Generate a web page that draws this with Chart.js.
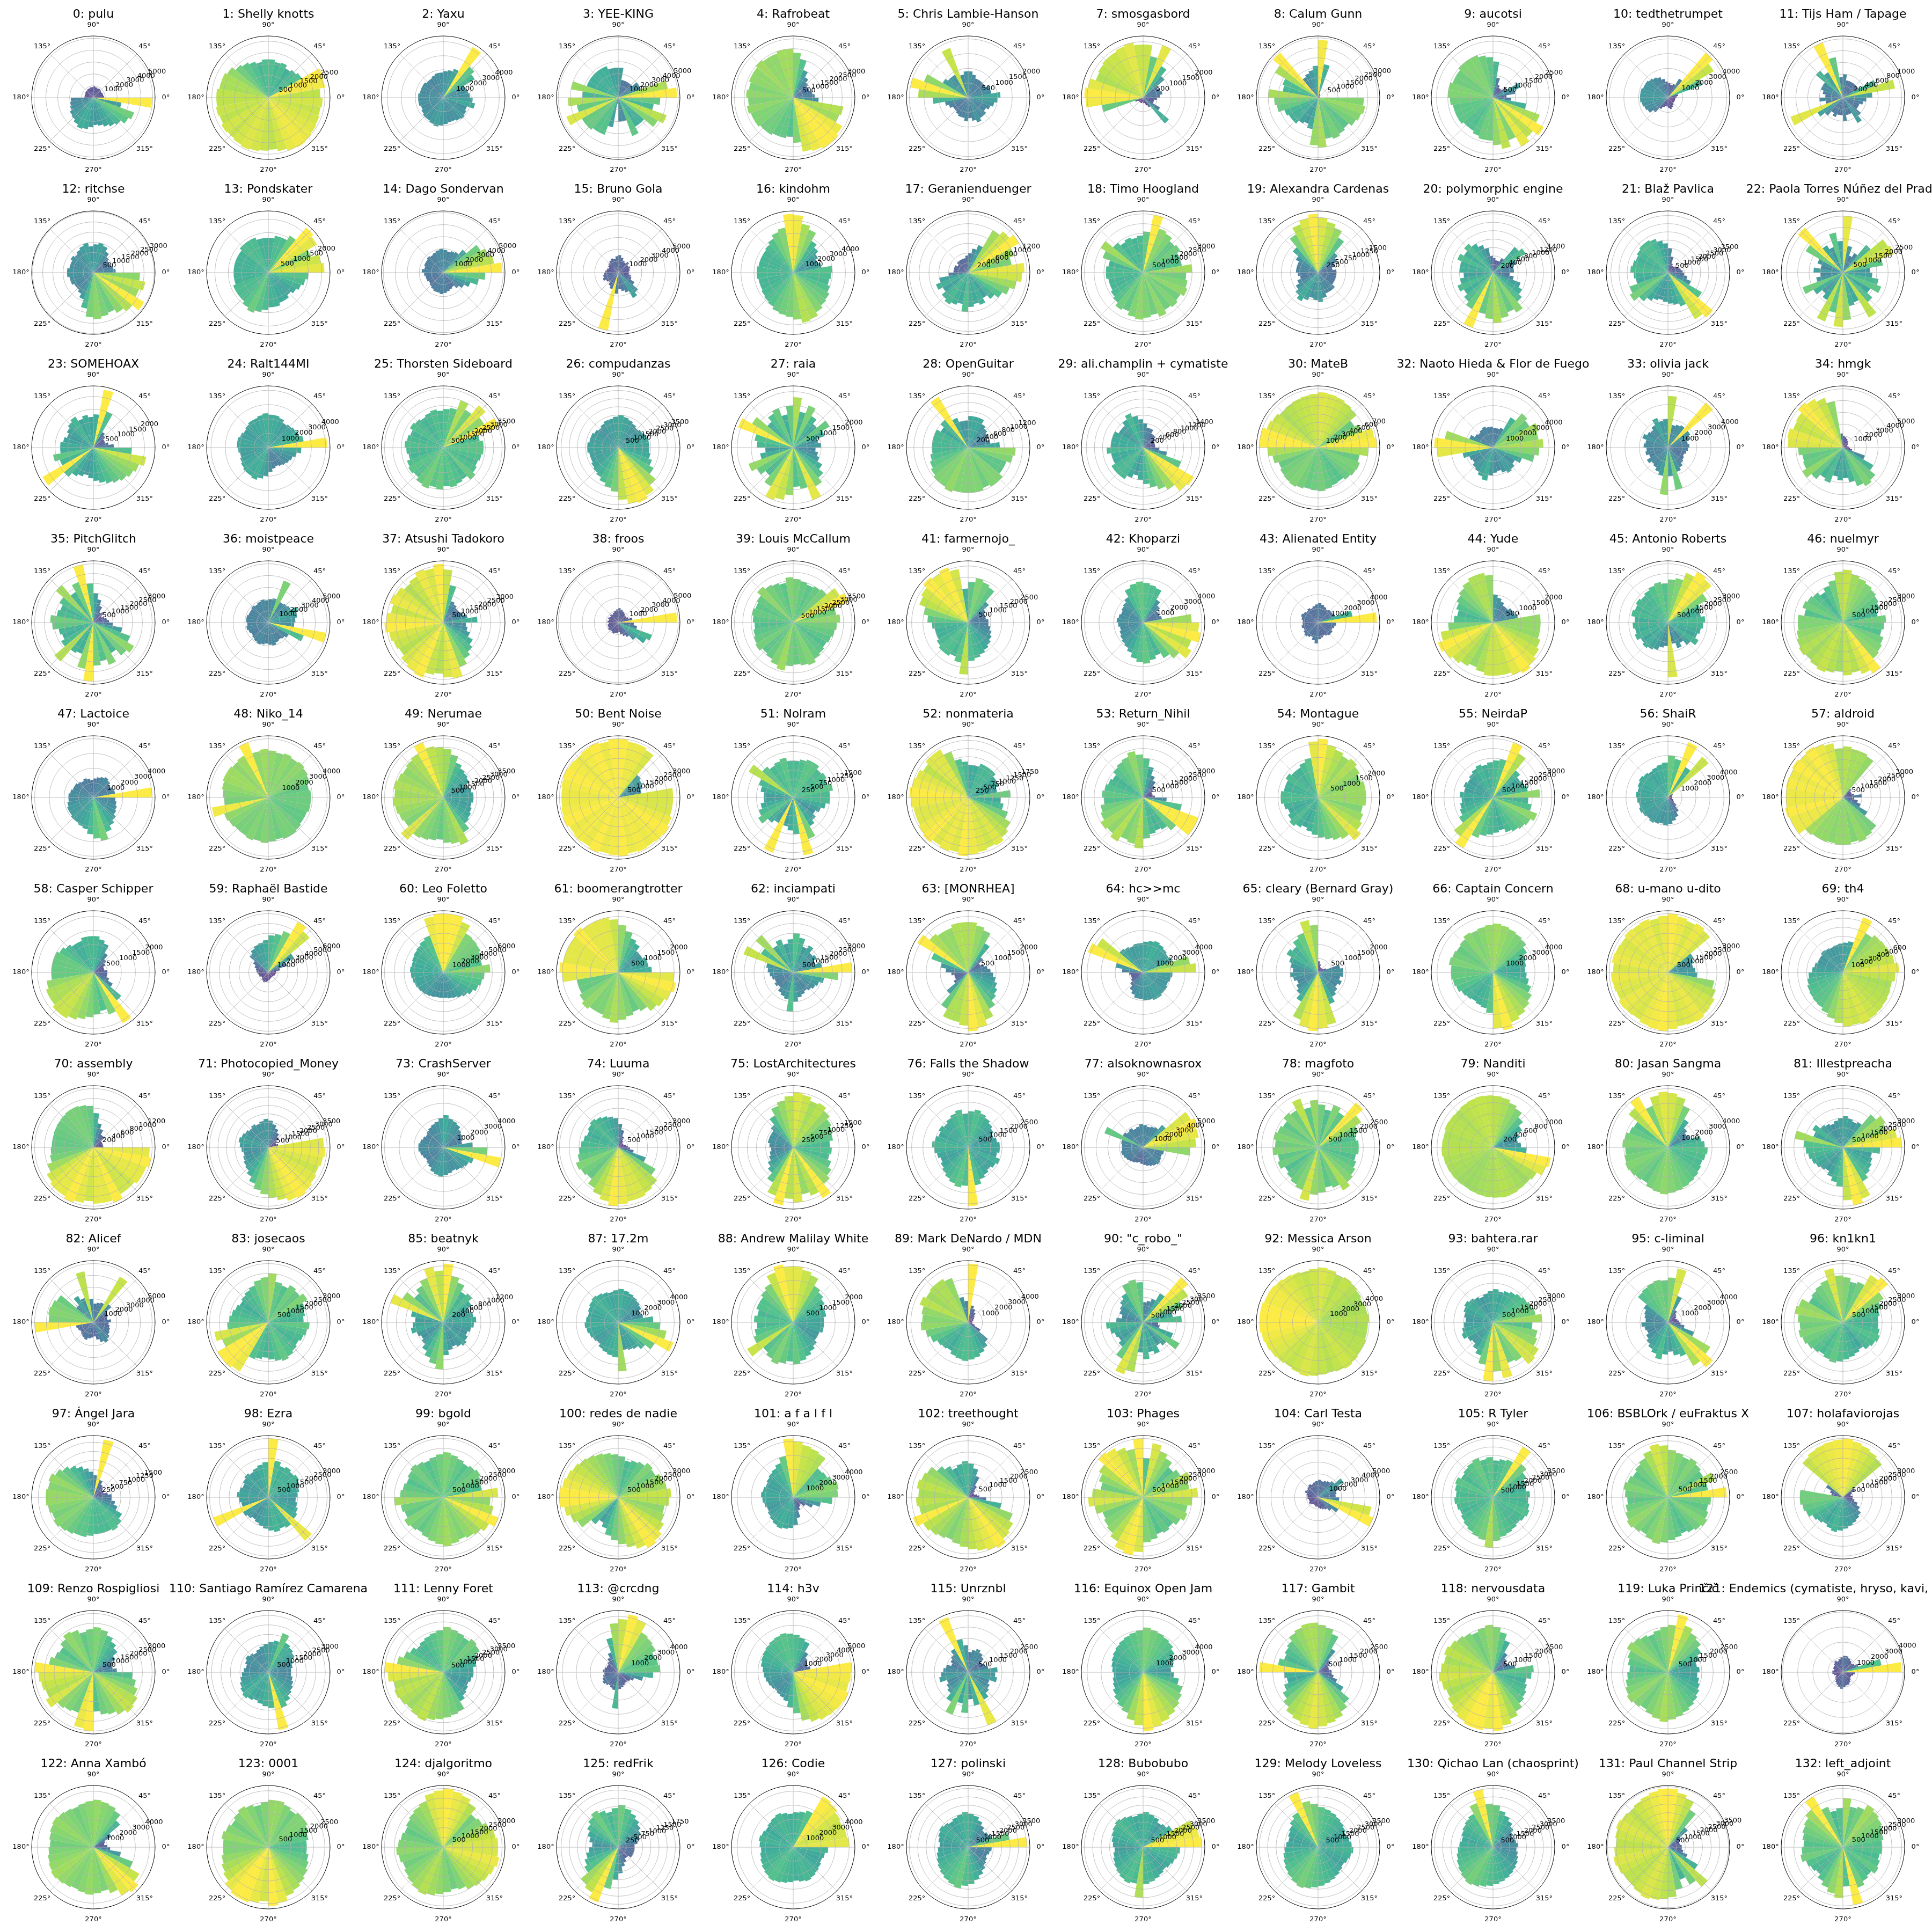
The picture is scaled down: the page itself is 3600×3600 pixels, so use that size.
<!DOCTYPE html>
<html>
<head>
<meta charset="utf-8">
<script src="https://cdn.jsdelivr.net/npm/chart.js@4.4.1/dist/chart.umd.min.js"></script>
<style>
  body { margin: 0; width: 3600px; height: 3600px; overflow: hidden; background: #fff; position: relative; font-family: 'DejaVu Sans', sans-serif; }
  canvas { position: absolute; }
  .title { position: absolute; white-space: nowrap; transform: translate(-50%, -50%); font-size: 22px; color: #000; }
</style>
</head>
<body>
<script>
// panel titles, one per polar plot (row by row, 11 per row)
const titles = [
  '0: pulu', '1: Shelly knotts', '2: Yaxu', '3: YEE-KING', '4: Rafrobeat', '5: Chris Lambie-Hanson', '7: smosgasbord', '8: Calum Gunn', '9: aucotsi', '10: tedthetrumpet', '11: Tijs Ham / Tapage',
  '12: ritchse', '13: Pondskater', '14: Dago Sondervan', '15: Bruno Gola', '16: kindohm', '17: Geranienduenger', '18: Timo Hoogland', '19: Alexandra Cardenas', '20: polymorphic engine', '21: Blaž Pavlica', '22: Paola Torres Núñez del Prado',
  '23: SOMEHOAX', '24: Ralt144MI', '25: Thorsten Sideboard', '26: compudanzas', '27: raia', '28: OpenGuitar', '29: ali.champlin + cymatiste', '30: MateB', '32: Naoto Hieda & Flor de Fuego', '33: olivia jack', '34: hmgk',
  '35: PitchGlitch', '36: moistpeace', '37: Atsushi Tadokoro', '38: froos', '39: Louis McCallum', '41: farmernojo_', '42: Khoparzi', '43: Alienated Entity', '44: Yude', '45: Antonio Roberts', '46: nuelmyr',
  '47: Lactoice', '48: Niko_14', '49: Nerumae', '50: Bent Noise', '51: Nolram', '52: nonmateria', '53: Return_Nihil', '54: Montague', '55: NeirdaP', '56: ShaiR', '57: aldroid',
  '58: Casper Schipper', '59: Raphaël Bastide', '60: Leo Foletto', '61: boomerangtrotter', '62: inciampati', '63: [MONRHEA]', '64: hc>>mc', '65: cleary (Bernard Gray)', '66: Captain Concern', '68: u-mano u-dito', '69: th4',
  '70: assembly', '71: Photocopied_Money', '73: CrashServer', '74: Luuma', '75: LostArchitectures', '76: Falls the Shadow', '77: alsoknownasrox', '78: magfoto', '79: Nanditi', '80: Jasan Sangma', '81: Illestpreacha',
  '82: Alicef', '83: josecaos', '85: beatnyk', '87: 17.2m', '88: Andrew Malilay White', '89: Mark DeNardo / MDN', '90: "c_robo_"', '92: Messica Arson', '93: bahtera.rar', '95: c-liminal', '96: kn1kn1',
  '97: Ángel Jara', '98: Ezra', '99: bgold', '100: redes de nadie', '101: a f a l f l', '102: treethought', '103: Phages', '104: Carl Testa', '105: R Tyler', '106: BSBLOrk / euFraktus X', '107: holafaviorojas',
  '109: Renzo Rospigliosi', '110: Santiago Ramírez Camarena', '111: Lenny Foret', '113: @crcdng', '114: h3v', '115: Unrznbl', '116: Equinox Open Jam', '117: Gambit', '118: nervousdata', '119: Luka Prinčič', '121: Endemics (cymatiste, hryso, kavi, nanoyak)',
  '122: Anna Xambó', '123: 0001', '124: djalgoritmo', '125: redFrik', '126: Codie', '127: polinski', '128: Bubobubo', '129: Melody Loveless', '130: Qichao Lan (chaosprint)', '131: Paul Channel Strip', '132: left_adjoint'
];

// radial tick spacing of each panel
const tickSteps = [
  1000, 500, 1000, 1000, 500, 500, 500, 500, 500, 1000, 200,
  500, 500, 1000, 1000, 1000, 200, 500, 250, 200, 500, 500,
  500, 1000, 500, 500, 500, 200, 200, 100, 1000, 1000, 1000,
  500, 1000, 500, 1000, 500, 500, 1000, 1000, 500, 500, 500,
  1000, 1000, 500, 500, 250, 250, 500, 500, 500, 1000, 500,
  500, 1000, 1000, 500, 500, 500, 1000, 500, 1000, 500, 100,
  200, 500, 1000, 500, 250, 500, 1000, 500, 200, 1000, 500,
  1000, 500, 200, 1000, 500, 1000, 500, 1000, 500, 1000, 500,
  250, 500, 500, 500, 1000, 500, 500, 1000, 500, 500, 500,
  500, 500, 500, 1000, 1000, 500, 1000, 500, 500, 500, 1000,
  1000, 500, 500, 250, 1000, 500, 500, 500, 500, 500, 500
];

// angle bins (10 degrees each, counter-clockwise from east)
const binLabels = ['0°','10°','20°','30°','40°','50°','60°','70°','80°','90°','100°','110°','120°','130°','140°','150°','160°','170°',
  '180°','190°','200°','210°','220°','230°','240°','250°','260°','270°','280°','290°','300°','310°','320°','330°','340°','350°'];

// angular axis tick labels
const thetaLabels = ['0°', '45°', '90°', '135°', '180°', '225°', '270°', '315°'];

// bar heights for each panel, one value per angle bin
const panelValues = [
  [900,850,850,800,850,900,850,900,950,900,900,850,850,800,800,750,750,750,1900,2000,2100,2300,2400,2600,2800,2700,2500,2300,2400,2600,2800,3000,3400,3650,2400,4950], // 0
  [2300,2550,2600,1700,1600,1500,1650,1600,1700,1700,1600,1700,1800,1900,2100,2200,2200,2300,2300,2350,2300,2400,2350,2400,2450,2400,2350,2300,2400,2500,2550,2500,2450,2400,2350,2400], // 1
  [1900,1800,1700,2600,2900,4200,2200,2000,1900,1800,1800,1700,1600,1600,1700,1700,1700,1800,1800,1800,1700,1800,1900,1900,2000,2100,2000,1900,1800,1800,1900,2000,1900,1800,2300,2100], // 2
  [4900,4200,2000,2000,1500,1500,1500,1500,2500,2500,2500,2800,2800,2800,2800,2800,4000,3000,4200,3500,4600,3500,3500,3300,3300,2500,500,2000,2000,3400,2800,2800,3800,4300,3000,3500], // 3
  [1100,1000,900,900,1000,1200,1500,2000,2300,2500,2500,2400,2400,2500,2400,2400,2300,2400,2300,2400,2300,2300,2200,2200,2100,2100,2000,2300,2800,2900,3000,3000,2900,2500,2600,1300], // 4
  [1100,800,800,700,700,700,700,800,900,900,800,1800,900,900,1000,1600,2000,1700,1200,800,700,600,600,650,700,700,800,700,800,900,800,800,700,800,900,1000], // 5
  [600,700,650,600,1000,1300,2000,1500,1900,1900,2000,1950,1900,1900,1850,1800,2000,2100,2050,1500,300,200,200,200,200,200,150,200,200,300,400,1200,700,400,400,500], // 7
  [100,100,100,100,100,150,200,1700,2900,1600,1400,1300,1200,2950,2500,1900,1800,2500,2200,2100,1800,1700,1700,1500,1400,1600,2400,2500,2100,2200,2100,2000,2200,2300,2400,2300], // 8
  [600,1000,1300,700,500,500,600,900,1600,1800,1900,2000,2000,2000,1900,1900,2000,2000,1900,1800,1800,1800,1700,1700,1800,1900,1900,2100,2300,2000,2500,2300,2600,2200,1500,800], // 9
  [600,700,2500,3600,4000,1500,1000,900,1000,1100,1300,1500,1600,1700,1800,1800,1900,1900,1900,1800,1700,1600,1300,900,700,600,600,700,800,700,600,500,500,500,500,500], // 10
  [500,900,600,300,300,300,300,300,400,350,700,1000,500,600,400,400,350,300,400,300,950,500,400,300,350,300,300,400,300,300,500,400,300,300,350,400], // 11
  [1100,1000,900,900,1000,1200,1400,1500,1400,1300,1500,1400,1300,1200,1300,1200,1200,1300,1300,1200,1200,1100,1100,1200,1400,1800,2200,2300,2200,2100,2300,2500,2900,2400,2600,2300], // 12
  [2100,2000,1700,2100,2200,1600,1400,1400,1300,1300,1300,1400,1400,1400,1300,1300,1300,1300,1300,1300,1400,1400,1400,1500,1600,1500,1400,1300,1300,1200,1200,1100,1200,1300,1400,1500], // 13
  [4900,4300,4000,3600,2500,2000,1900,1800,1900,2000,1900,1800,1700,1800,1700,1700,1600,1800,1600,1500,1500,1400,1500,1600,1700,1700,1800,1700,1600,1500,1400,1700,2000,2400,3000,3500], // 14
  [900,1000,1100,1000,1200,1000,1100,1300,1500,1400,1200,1300,1200,1100,1000,900,1000,1100,1200,1300,1400,1200,1100,1300,1500,5000,1800,1400,1600,1800,2500,2200,1600,1200,1100,900], // 15
  [3000,2200,2000,2200,2500,2800,3500,3800,4400,4500,3500,3300,3000,2800,2700,2700,2700,2800,2800,2700,2700,2800,2900,3000,3200,3300,3400,3600,3900,3800,3500,3300,3200,3000,2800,2900], // 16
  [1150,900,1000,1200,1100,1000,600,500,400,350,300,300,300,300,250,300,300,300,400,600,700,600,700,750,700,650,800,700,650,700,600,700,800,900,1000,1100], // 17
  [2500,2000,2000,2200,2100,2300,2400,3000,2100,1900,1800,1900,1800,2000,2500,2200,1800,1900,1900,1800,1800,1900,2000,2200,2100,2300,2400,2300,2200,2400,2200,2300,2200,2400,2300,2200], // 18
  [500,400,500,600,700,1100,1300,1400,1500,1600,1500,1400,1200,900,700,600,600,600,550,500,600,700,800,900,800,700,750,800,700,600,600,600,500,500,500,500], // 19
  [500,500,600,900,800,400,300,300,350,400,600,700,800,900,800,900,800,800,700,800,900,800,900,1000,1400,1000,1100,1200,1100,1000,1100,900,800,700,500,400], // 20
  [900,800,700,600,500,500,600,1000,1500,1800,2000,2200,2300,2300,2200,2100,2200,2300,2100,2000,2500,2700,2300,2000,1800,1700,1800,1900,2000,2200,3300,3600,2400,1500,1200,1000], // 21
  [1200,1800,2400,2300,1600,1000,800,1200,2500,1400,1800,1200,1400,2600,1900,1200,1000,1300,1000,1200,1900,1500,1200,1400,2300,1800,2400,2100,1500,1400,2300,1700,1400,1800,1600,1300], // 22
  [800,600,500,500,600,700,1500,2300,1300,1200,1300,1200,1400,1300,1200,1100,1200,1300,1300,1600,1400,2300,1500,1300,1200,1100,1200,1300,1400,1500,1600,1700,1800,1900,2100,1500], // 23
  [4100,2500,2300,2200,2100,2000,2200,2300,2300,2400,2300,2200,2200,2100,2000,2100,2200,2200,2100,2000,2100,2200,2300,2300,2400,2200,2000,1700,1500,1400,1500,1600,1700,1800,2000,2300], // 24
  [2400,2200,3500,2800,3300,2600,3000,2400,2300,2200,2300,2200,2100,2200,2300,2100,2200,2300,2200,2100,2300,2400,2300,2500,2600,2400,2500,2300,2400,2300,2200,2500,2300,2200,2300,2400], // 25
  [1900,1900,1800,1700,1600,1700,1800,1900,2000,1900,1800,1800,1700,1600,1700,1800,1800,1900,1900,1800,1800,1900,2000,2100,2300,2500,2700,3200,3500,3600,3400,3000,2500,2200,2000,1900], // 26
  [1000,900,1200,1500,1100,1300,1600,1300,1800,1500,1200,1500,1400,1200,1700,2100,1400,1300,1000,1200,1700,1500,1300,1600,2000,1900,1700,1400,1500,2000,1600,1400,1200,1000,900,800], // 27
  [700,500,450,500,550,600,700,700,700,600,600,700,1300,800,700,800,800,800,800,850,900,950,1000,1000,1050,1000,1000,1000,1000,950,1000,1000,900,900,1000,1050], // 28
  [300,300,300,350,400,400,500,500,600,700,800,900,800,700,700,800,800,800,900,800,800,900,900,900,800,700,800,900,1000,1100,1200,1400,1450,1000,600,400], // 29
  [700,680,550,500,600,620,640,650,660,640,630,620,610,600,630,650,700,700,600,550,500,520,530,540,520,500,510,520,500,480,470,500,520,530,500,600], // 30
  [3600,3300,3500,3000,3200,2500,1500,1400,1400,1500,1500,1600,1500,1400,1500,1800,3500,4200,4000,2200,1800,1700,1900,2000,2200,2400,2000,1800,1700,1900,2100,2000,1800,2200,3000,3300], // 32
  [1500,1400,1600,1800,4100,1800,1700,1600,3600,2000,1900,2200,1800,1600,1700,1900,1600,1700,1500,1600,1400,1700,1500,1600,1800,2000,3300,2000,3000,1800,1600,1400,1300,1200,1300,1400], // 33
  [500,400,400,500,600,700,800,900,1000,1200,4000,4500,4800,5000,4600,4500,4800,4700,3800,3500,3600,4000,3500,3000,3200,2500,2800,2600,3000,3500,3800,3600,3000,2000,800,600], // 34
  [800,700,600,500,700,600,900,1200,1500,2000,3000,2200,1800,2500,2000,1800,1900,2200,2100,1800,1700,1900,2600,1800,1700,2400,3000,2200,2000,2300,1800,2200,2400,2000,1500,1000], // 35
  [2300,2500,2700,2200,2100,2000,3800,2100,2000,1900,2000,1900,1800,1900,1800,1800,1900,1900,1800,1900,1800,1700,1800,1900,2000,1900,1800,1900,2000,1800,1700,1800,2000,3200,5000,2200], // 36
  [1800,1300,1100,1000,1000,1100,1200,2000,2800,3100,2900,3000,2800,2700,2900,3000,2800,3000,3100,2900,2800,2700,2900,3000,3100,2800,2700,2900,3000,2500,2200,2000,1800,1500,1300,1200], // 37
  [4900,1200,900,800,800,900,1000,1100,1200,1100,1000,900,800,900,800,900,800,900,800,900,900,1000,900,900,1000,900,900,800,1000,1200,1400,1900,2700,3000,1600,1300], // 38
  [2800,2600,3500,3200,2600,2500,2400,2500,2600,2700,2400,2500,2600,2800,2500,2400,2500,2400,2300,2400,2500,2600,2400,2500,2700,2900,2600,2500,2600,2700,2500,2400,2300,2400,2500,2600], // 39
  [900,800,800,900,1200,1800,1900,2000,1800,1500,2400,2600,2500,2600,2400,2300,2000,1800,1600,1500,1500,1600,1700,1700,1600,1800,2300,1700,1600,1500,1400,1300,1200,1100,1000,900], // 41
  [3300,1300,1200,1200,1500,1800,2500,2600,2700,2800,2700,2500,2000,1800,1700,1600,1700,1800,1700,1600,1700,1800,1900,2000,2200,2500,2700,2800,2600,2400,2800,3200,3800,3500,4000,3800], // 42
  [4200,2500,1300,1200,1200,1100,1200,1300,1400,1300,1200,1100,1200,1100,1200,1300,1200,1100,1100,1200,1100,1200,1300,1200,1100,1300,1500,1200,1100,1000,1100,1200,1200,1100,1200,1300], // 43
  [1700,900,800,800,700,700,800,900,1000,1700,1800,1800,1700,1600,1500,1400,1300,1400,1600,1900,2100,2000,1900,1800,1700,1800,1900,1900,1900,2000,2100,2000,1900,1800,1700,1700], // 44
  [1900,1700,1800,2300,2900,3000,2700,2300,2200,2000,2100,2000,1900,1800,1900,1800,1900,1700,1800,1700,1800,1600,1700,1600,1500,1300,1200,2800,1100,1400,1200,1500,1800,1600,1700,1800], // 45
  [2200,1800,2000,2100,2200,2300,2400,2500,2700,2600,2200,2000,1800,2000,2100,2200,2000,2300,2300,2400,2500,2600,2500,2600,2700,2600,2500,2700,2600,2800,3000,2400,2300,2200,2000,2100], // 46
  [4000,1500,1400,1300,1500,1600,1500,1400,1300,1200,1300,1400,1300,1400,1500,1500,1600,1700,1700,1800,1900,1900,2000,2000,2100,2200,2500,2800,3000,2500,2200,2000,1800,1700,1600,1500], // 47
  [2900,2800,3000,3100,3200,3100,3200,3100,3200,3300,3200,4000,3300,3200,3300,3300,3200,3100,3000,3900,3200,3100,3000,3000,3100,3000,3100,3000,2900,3000,3000,2900,2800,2800,2900,2900], // 48
  [1800,1700,1600,1800,1900,2000,2200,2600,2900,3000,3100,3500,3000,2900,2800,2900,3000,2900,3000,2900,2800,2700,3300,2800,2700,2600,2500,2700,2800,3000,2400,2000,1900,1800,1700,1800], // 49
  [2800,1200,1300,1400,1500,2800,2900,2900,3000,3000,2900,3000,2950,2900,2950,3000,2950,2900,2900,2950,3000,2900,2950,2900,3000,2900,2950,3000,2900,2950,2900,2950,3000,2900,2800,2800], // 50
  [1000,1100,1000,1050,1000,1100,1100,1050,1000,1000,1100,1050,1000,1100,1400,1000,900,800,800,900,1000,1100,900,800,1600,800,900,1000,1600,1200,900,800,700,800,900,1000], // 51
  [1300,900,1000,1000,1100,1100,1100,1000,1000,1100,1200,1500,1700,1700,1600,1700,1750,1800,1750,1700,1700,1750,1800,1700,1750,1700,1800,1750,1700,1650,1700,1600,1500,1300,1100,1000], // 52
  [600,500,500,600,800,1000,1200,1600,2000,2200,2400,2200,2100,2000,1800,1900,2000,2100,2000,2200,2300,2500,2400,2600,2300,2400,2600,2100,1900,1800,1900,2200,3000,3000,2000,1200], // 53
  [1800,1800,1700,1800,1900,1800,1900,2000,2200,2100,1500,1400,1300,1300,1400,1300,1300,1400,1400,1300,1200,1300,1400,1300,1200,1300,1400,1500,1600,1700,1800,2100,1900,1800,1700,1800], // 54
  [2400,1800,1700,1600,1800,2600,3000,2000,1900,1800,1700,1800,1700,1600,1500,1600,1500,1700,1600,1700,1800,2000,2600,3000,2200,2000,1900,1800,1700,1900,2000,2100,2200,2400,2000,1800], // 55
  [300,300,300,400,3800,2500,4200,2800,3000,2500,2400,2300,2200,2300,2400,2300,2200,2300,2200,2100,2200,2100,2000,2100,2000,1900,2000,1900,1700,1500,1200,800,500,400,300,300], // 56
  [1000,600,500,500,600,2500,2600,2600,2700,2600,2900,3000,3100,3000,3100,3000,3050,3000,3000,3100,3000,3000,2600,2500,2500,2450,2500,2500,2400,2500,2400,2300,1500,1000,800,600], // 57
  [500,400,400,500,600,800,1100,1200,1300,1300,1300,1200,1200,1300,1400,1500,1500,1500,1500,1700,1800,1800,1900,1900,1800,1700,1600,1500,1400,1600,2100,1300,800,600,500,500], // 58
  [800,1200,2000,3000,5500,6000,4500,4000,3800,3300,3100,3000,2800,2500,1800,1500,1300,1200,1100,1000,900,800,900,1000,1100,1000,900,800,700,600,600,600,600,700,700,800], // 59
  [4800,4000,4200,4400,4500,4600,5500,6000,6000,6000,5800,4000,3800,3600,3500,3400,3300,3400,3300,3200,3100,3000,2900,2800,2700,2600,2600,2600,2700,2800,3000,3200,3500,3800,4000,4200], // 60
  [1200,1100,1100,1000,1000,1200,1300,1500,1700,1900,2000,2000,2000,2100,2000,2000,2000,2100,2000,1500,1500,1600,1700,1600,1600,1700,1800,1700,1600,1500,1600,1800,1900,2000,2100,2000], // 61
  [3000,1500,1200,1400,1300,1600,1400,1800,2000,1700,1500,1800,1600,2500,1900,2700,1400,1300,1200,1100,1000,1100,1000,1200,1300,1400,2000,1500,1300,1200,1100,1200,1300,1400,1600,2300], // 62
  [800,700,600,500,700,1200,1600,1700,1800,1800,1800,1700,1700,1800,2100,1400,1000,800,600,500,500,600,1000,1500,1800,1800,1900,2100,2000,1800,1500,1300,1200,1100,1000,900], // 63
  [3800,3400,2200,2100,2200,2300,2400,2300,2200,2100,2100,2000,2100,2200,3800,4200,2000,1500,1000,900,900,1000,1200,1500,1700,1900,1900,2000,2000,2100,2100,2000,2000,1900,2000,2100], // 64
  [900,800,300,200,200,200,200,300,400,1700,1900,1500,1400,1200,1300,1100,1000,900,1000,900,800,900,1000,1200,1800,2000,2100,2000,1900,1200,1000,900,800,900,800,900], // 65
  [2300,2400,2500,2800,3100,3200,3300,3400,3500,3400,3300,3200,3300,3100,3000,3100,3200,3000,3000,2900,2800,2600,2500,2400,2500,2600,2900,4000,4200,3800,3600,3400,3200,2900,2600,2400], // 66
  [1400,1300,1400,1500,2800,2900,2800,2900,3000,2900,2800,2900,2850,2900,2800,2850,2900,2800,2900,2850,2800,2900,2850,2800,2900,2950,3000,2900,2800,2850,2900,2800,2750,2600,2400,1500], // 68
  [620,580,560,550,540,500,650,350,330,320,310,300,310,320,300,300,320,340,380,400,420,430,440,450,480,520,560,600,590,610,590,580,570,560,550,580], // 69
  [200,200,200,200,300,300,400,500,700,850,880,900,900,880,870,860,850,850,870,900,1000,1100,1150,1150,1200,1150,1100,1150,1150,1200,1100,1100,1150,1150,1200,1150], // 70
  [3300,600,500,600,800,1000,1200,1400,1600,1700,1600,1500,1600,1500,1600,1700,1800,1700,1600,1500,1600,1700,1800,2000,2300,2600,2800,3000,3200,3400,3500,3400,3300,3200,3300,3400], // 71
  [2000,1300,1400,1500,1600,1800,1900,2000,2200,2000,1800,1700,1600,1500,1400,1500,1600,1700,1700,1600,1500,1400,1500,1600,1800,1900,2000,1900,1800,1700,1800,1900,2000,2200,4000,3000], // 73
  [500,400,300,300,300,400,600,900,1200,1500,1600,1700,1800,1900,1800,1700,1800,1900,2000,2100,2300,2200,2100,2400,2600,2800,3000,2900,2800,2800,2700,2600,2200,1500,800,600], // 74
  [1000,1100,1150,1200,1300,1400,1350,1450,1500,1400,1300,1200,1000,800,700,700,700,650,600,650,700,800,900,1100,1400,1600,1400,1500,1300,1400,1600,1300,1200,1100,1000,1050], // 75
  [1400,1300,1200,1300,1400,1500,1600,1700,1600,1500,1700,1600,1500,1400,1500,1400,1500,1600,1500,1400,1300,1400,1500,1600,1700,1800,1700,2600,1700,1500,1400,1300,1400,1500,1300,1400], // 76
  [4500,4800,5000,4700,2500,2000,1900,1800,1900,2000,1800,1700,1900,1800,2000,3500,1900,1800,1800,1900,1800,1700,1600,1500,1400,1300,1400,1500,1600,1700,1800,1900,1800,1700,1800,4000], // 77
  [1800,1700,1900,2200,2600,1800,2000,1700,1900,2100,1800,2300,1900,2000,1800,1900,2000,1900,2000,1800,1900,1700,1800,1900,2000,2400,2100,2000,1800,1900,2200,2000,1900,1800,1700,1800], // 78
  [500,450,500,600,700,800,850,900,920,930,940,930,920,900,910,920,900,910,920,900,890,880,870,860,870,880,890,900,910,900,880,870,900,1000,1050,600], // 79
  [2500,2300,1600,1500,1700,2200,3000,3500,3700,3800,3600,3000,4000,3500,2700,2800,3000,3100,2900,3000,3100,3000,2900,2800,3000,3100,3200,3100,3000,2900,2800,2700,2600,2500,2600,2700], // 80
  [3000,2800,2400,2500,2200,1500,1400,1500,1600,1500,1400,1300,1400,1500,1800,1600,2500,2000,1900,1800,1700,1600,1500,1400,1600,1800,2000,2700,3000,2800,2000,1800,1700,1600,1500,1900], // 81
  [1500,1200,1300,1400,2000,4500,1800,1700,1600,2000,4400,2200,2600,1900,3600,3800,3900,3800,5000,1500,1400,1300,1400,1500,1600,1400,1300,1200,1500,1800,2000,1800,1600,1500,1400,1300], // 82
  [1800,1900,2000,2300,2100,2200,2000,2100,2500,2300,2200,2000,1900,1800,1700,1800,1900,2000,2100,2800,2500,3000,3000,2900,2000,1900,1800,1900,2000,2100,2000,1900,1800,1900,2000,2100], // 83
  [700,650,600,700,800,750,900,1000,1250,1100,1200,1000,900,800,1000,1200,700,600,650,700,600,550,600,700,800,900,1000,700,600,550,600,650,600,550,600,650], // 85
  [2500,1800,1700,1900,2000,2100,2200,2300,2400,2300,2200,2300,2400,2500,2400,2300,2200,2300,2400,2300,2200,2100,2000,2200,2300,2400,2500,3500,2000,2100,2200,2500,3000,4200,3500,3000], // 87
  [1100,1200,1200,1300,1400,1500,1800,1900,2000,2000,2100,1900,1600,1500,1400,1400,1300,1400,1300,1400,1500,1900,1400,1500,1600,1500,1400,1500,1400,1300,1200,1100,1000,1000,1100,1100], // 88
  [300,300,400,500,600,800,1000,1200,4100,1500,1800,3300,3500,3500,3400,3600,3300,3200,3300,3000,2800,2500,2400,2300,2500,2600,2700,2600,2500,2300,2100,1800,1000,500,300,300], // 89
  [2300,1800,2500,3100,3500,2000,1500,1300,1200,2400,2600,2500,2000,1800,1600,1500,1300,1600,2200,2000,1800,1700,1900,2500,3300,3000,1800,2200,1800,2000,1600,1800,2500,1900,1000,900], // 90
  [4000,3900,3800,3900,4000,4100,4000,4200,4300,4200,4100,4200,4300,4400,4500,4500,4600,4600,4600,4500,4400,4300,4200,4100,4200,4300,4200,4100,4000,4100,4200,4100,4000,4000,3900,3900], // 92
  [2500,2200,2100,2000,1900,1800,1700,1600,1700,1600,1500,1400,1500,1600,1700,1600,1500,1400,1500,1600,1700,1500,1400,1600,1800,2200,3000,2500,2900,2200,2300,2800,2700,2400,2300,2000], // 93
  [800,700,600,700,800,1000,2000,3900,3200,3000,3100,3000,2900,2800,2000,1800,1700,1600,1900,1700,1600,1800,2000,2200,2400,2700,2300,2100,2400,2600,3600,4200,3500,2000,1200,900], // 95
  [1800,1900,2100,2400,3000,2800,2200,2100,2300,2400,2800,2300,2200,2100,2000,2400,2500,2300,2200,2300,2200,2100,2000,1900,2000,2100,2000,1900,1800,1700,1600,1800,1900,2000,1900,1800], // 96
  [500,400,300,300,350,400,500,1600,600,700,800,900,1000,1100,1200,1300,1250,1300,1300,1250,1200,1250,1200,1150,1100,1100,1050,1000,1000,1000,1050,1000,900,700,600,500], // 97
  [1500,1600,1700,1800,1700,1800,1700,1900,3000,1800,1700,1600,1500,1600,1500,1400,1500,1600,1500,1400,3000,1500,1400,1300,1400,1500,1600,1700,1800,1700,1800,2900,1700,1600,1500,1400], // 98
  [2800,2000,2100,2200,2100,2000,2100,2200,2300,2200,2100,2000,2100,2200,2100,2000,2100,2200,2500,2200,2100,2300,2200,2100,2200,2300,2400,2500,2400,2300,2400,2500,2700,3000,2600,2400], // 99
  [2700,2500,2400,2200,2300,2100,2000,1900,2100,2200,2300,2400,2500,2600,2700,2800,2900,3000,3000,2800,2600,2400,1800,1500,1700,2000,2200,2400,2600,2800,3000,2900,2700,2500,2400,2600], // 100
  [3200,3300,3000,2800,2700,3600,3700,3800,4000,4200,3000,2600,2400,2300,2200,2100,2200,2300,2200,2100,2000,2100,2200,2300,2400,2300,2200,2000,1500,1000,800,700,1000,1500,2000,2800], // 101
  [500,400,300,300,400,600,1000,1300,1500,1600,1500,1400,1600,1800,2100,2200,2300,2200,2300,2200,2600,2300,2200,2100,2000,2100,2200,2300,2400,2500,2600,2400,2300,2100,1500,800], // 102
  [2800,2400,2600,2200,2000,2300,2500,2800,2000,3000,2500,2700,2900,3000,2600,2400,2200,2600,2800,2500,2200,2300,2400,2600,2900,3000,2800,2300,2200,2000,2100,2000,2200,2400,2300,2500], // 103
  [1500,1600,2000,2500,1800,1600,1500,1400,1500,1400,1300,1200,1300,1200,1100,1200,1000,900,900,800,800,900,800,700,700,800,800,900,1000,1100,1200,1500,2000,5000,4600,1800], // 104
  [2200,2000,2100,2300,2600,3500,2400,2300,2200,2400,2300,2500,2400,2300,2200,2400,2300,2200,2300,2200,2100,2200,2300,2400,2500,2600,3000,2600,2400,2300,2200,2100,2200,2300,2200,2100], // 105
  [2600,1800,2200,1800,1900,2000,1900,2000,2100,2300,2400,2200,2000,1900,1800,1900,2000,1900,1800,1900,2000,2100,2000,1900,2000,2100,2000,1900,1800,1700,1800,1900,2000,1900,1800,1900], // 106
  [500,400,500,700,2600,2700,2800,2900,3000,2950,2900,2850,2800,2700,1000,700,600,2200,2200,2100,2000,1800,1700,1600,1700,1800,1700,1600,1500,1400,1300,1200,1000,800,600,500], // 107
  [1200,1000,1100,1300,1600,1800,2000,2200,2300,2200,2100,2300,2400,2200,2000,2100,2300,3000,2800,2700,2600,2800,2400,2300,2200,2900,3000,2000,2200,2300,2500,2700,2600,2400,2200,2000], // 109
  [1200,1300,1400,1600,1700,1800,2200,1700,1600,1500,1400,1300,1200,1300,1400,1300,1200,1300,1400,1500,1600,1700,1800,1700,1600,1700,1800,1900,3100,2000,1800,1600,1500,1400,1300,1200], // 110
  [1800,2000,2200,2500,2600,2400,2500,2600,2700,2500,2400,2300,2200,2100,2300,2500,2800,3500,3300,3000,3100,3000,2900,3000,3100,2900,2800,2700,2600,2500,2000,1800,1700,1600,1700,1800], // 111
  [3000,2900,2800,3100,3200,3300,4000,4200,3800,3500,2500,1500,1200,1000,900,900,1000,1100,1000,1100,1200,1300,1200,1100,1200,1300,2600,1200,1100,1000,900,900,1000,1200,1800,2500], // 113
  [5000,1500,1300,1400,1600,2000,2800,3000,3200,3300,3400,3300,3200,3100,3000,2900,2800,2600,2500,2400,2300,2200,2100,2200,2300,2500,3000,3500,4200,4500,4700,4800,4900,5000,4800,4900], // 114
  [1300,900,800,700,900,1000,1100,1000,900,1200,1500,2600,1200,1000,900,800,1000,1100,1200,1300,1000,1100,1200,1500,2000,1400,1800,1200,1500,2500,1400,1200,1100,1000,1300,1200], // 115
  [2000,2200,2400,2600,2800,2900,3000,3100,3200,3000,2900,2800,2700,2600,2500,2400,2300,2200,2100,2200,2300,2500,2700,2900,3100,3500,3800,4200,4000,3800,3600,3400,3200,3000,2600,2200], // 116
  [600,500,500,600,700,1200,1800,2000,2100,2200,2200,2100,2000,1800,1700,1600,1800,2600,1500,1400,1600,1800,2000,2200,2300,2400,2500,2400,2300,2200,2000,1800,1300,900,700,600], // 117
  [1800,1000,800,700,800,1000,1500,1800,2000,2100,2000,1900,2000,2100,2200,2300,2200,2300,2400,2300,2200,2300,2400,2500,2600,2600,2500,2600,2400,2200,2000,1800,1700,1600,1500,1700], // 118
  [1400,1300,1500,1700,1900,2000,2200,2600,2100,2000,1900,1800,1900,2000,2100,1900,1800,1700,1800,1900,2000,2100,2000,1900,2000,2100,2200,2100,2000,1900,1800,1700,1600,1500,1400,1300], // 119
  [3900,2600,1100,900,800,900,1000,1100,1100,1000,900,800,900,800,700,700,600,700,700,600,500,600,700,800,900,1000,1100,1000,900,900,800,700,600,600,700,800], // 121
  [1000,800,900,1500,2500,3000,3200,3300,3400,3300,3200,3100,3200,3300,3400,3300,3200,3100,3200,3300,3400,3500,3400,3300,3200,3300,3400,3300,3200,3500,4000,4200,3800,3000,2000,1200], // 122
  [1700,1800,1900,2000,2000,1900,2000,2100,2100,2000,1900,2000,2100,2000,1900,2000,2100,2000,2000,2100,2200,2300,2500,2600,2600,2500,2400,2600,2500,2300,2200,2100,2000,1900,1800,1700], // 123
  [2800,2700,2500,2300,2200,2600,2800,2900,3000,2900,2800,2500,2400,2300,2200,2100,2200,2300,2400,2300,2200,2300,2400,2500,2600,2500,2400,2300,2200,2300,2500,2600,2700,2800,2900,2800], // 124
  [500,600,700,800,900,1000,1100,1200,1300,1200,1100,1200,1300,1200,1100,1000,900,800,900,1000,1100,1200,1500,1600,1800,1300,1000,800,600,500,400,400,500,500,500,500], // 125
  [4000,3900,3800,3900,4100,4200,2800,2600,2500,2400,2500,2600,2500,2400,2300,2400,2500,2400,2300,2400,2500,2600,2700,2800,2700,2600,2500,2400,2500,2600,2500,2400,2300,2200,2300,2500], // 126
  [3500,2500,1500,1400,1300,1500,1700,1900,2000,2100,2000,1900,1800,1900,2000,1900,1800,1700,1800,1900,2000,2100,2200,2300,2400,2500,2300,2200,2000,1800,1600,1400,1300,1200,1300,1400], // 127
  [3500,3400,3200,2000,1800,1700,1900,2000,2100,2000,1900,2000,2100,2200,2100,2000,1900,1800,1700,1800,1900,2000,2100,2200,2300,2200,3000,2200,2100,2000,1900,1800,1900,2000,2100,2200], // 128
  [2000,1900,1800,1900,2000,2100,2200,2300,2400,2600,2800,3500,2400,2200,2000,1900,1800,1900,2000,2100,2200,2300,2400,2500,2600,2500,2400,2300,2200,2100,2000,1900,1800,1900,2000,2100], // 129
  [1500,1400,1300,1400,1600,1800,2000,2200,2500,2600,3500,2800,2300,2200,2100,2000,1900,2000,2100,2200,2300,2400,2500,2600,2500,2400,2300,2200,2100,2000,1900,1800,1700,1600,1500,1400], // 130
  [800,700,700,900,1500,2500,3000,3200,3400,3400,3300,3200,3100,3000,3100,3200,3100,3000,3100,3200,3100,3000,3000,3100,3200,3100,3000,2900,2500,2000,2500,3000,2000,1200,900,800], // 131
  [2000,2100,2200,2300,2400,2500,2200,2100,2500,2000,1900,2200,3000,2500,2300,2200,2100,2000,2100,2200,2000,1900,1800,2000,2200,2400,2600,2000,3000,2200,2000,1900,2100,2000,1900,2000] // 132
];

// viridis colour map stops
const viridisStops = ['#440154', '#482878', '#3e4989', '#31688e', '#26828e', '#1f9e89', '#35b779', '#6ece58', '#b5de2b', '#fde725'];

function hexToRgb(h) {
  return [parseInt(h.slice(1, 3), 16), parseInt(h.slice(3, 5), 16), parseInt(h.slice(5, 7), 16)];
}

function viridis(t, alpha) {
  t = Math.max(0, Math.min(1, t));
  const x = t * (viridisStops.length - 1);
  const i = Math.min(Math.floor(x), viridisStops.length - 2);
  const f = x - i;
  const a = hexToRgb(viridisStops[i]);
  const b = hexToRgb(viridisStops[i + 1]);
  const c = a.map((v, k) => Math.round(v + (b[k] - v) * f));
  return `rgba(${c[0]},${c[1]},${c[2]},${alpha})`;
}

// gridlines, outer circle and labels drawn over the bars (matplotlib style)
const polarDecor = {
  id: 'polarDecor',
  afterDatasetsDraw(chart, args, opts) {
    const s = chart.scales.r;
    const ctx = chart.ctx;
    const cx = s.xCenter, cy = s.yCenter;
    const R = s.getDistanceFromCenterForValue(s.max);
    const step = opts.step;
    ctx.save();
    ctx.strokeStyle = '#b0b0b0';
    ctx.lineWidth = 0.8;
    for (let v = step; v < s.max; v += step) {
      ctx.beginPath();
      ctx.arc(cx, cy, s.getDistanceFromCenterForValue(v), 0, 2 * Math.PI);
      ctx.stroke();
    }
    thetaLabels.forEach((lab, k) => {
      const a = k * Math.PI / 4;
      ctx.beginPath();
      ctx.moveTo(cx, cy);
      ctx.lineTo(cx + R * Math.cos(a), cy - R * Math.sin(a));
      ctx.stroke();
    });
    ctx.strokeStyle = '#000';
    ctx.lineWidth = 1;
    ctx.beginPath();
    ctx.arc(cx, cy, R, 0, 2 * Math.PI);
    ctx.stroke();

    ctx.fillStyle = '#000';
    ctx.font = '13px "DejaVu Sans"';
    ctx.textAlign = 'center';
    ctx.textBaseline = 'middle';
    thetaLabels.forEach((lab, k) => {
      const a = k * Math.PI / 4;
      ctx.fillText(lab, cx + (R + 20) * Math.cos(a), cy - (R + 20) * Math.sin(a));
    });
    ctx.textAlign = 'left';
    ctx.textBaseline = 'bottom';
    const ra = 22.5 * Math.PI / 180;
    for (let v = step; v < s.max; v += step) {
      const d = s.getDistanceFromCenterForValue(v);
      ctx.fillText(String(v), cx + d * Math.cos(ra), cy - d * Math.sin(ra));
    }
    ctx.restore();
  }
};

const CELL = 326;

panelValues.forEach((vals, i) => {
  const row = Math.floor(i / 11), col = i % 11;
  const left = 11 + CELL * col, top = 19 + CELL * row;

  const title = document.createElement('div');
  title.className = 'title';
  title.textContent = titles[i];
  title.style.left = (174 + CELL * col) + 'px';
  title.style.top = (25 + CELL * row) + 'px';

  const canvas = document.createElement('canvas');
  canvas.width = CELL;
  canvas.height = CELL;
  canvas.style.left = left + 'px';
  canvas.style.top = top + 'px';
  document.body.appendChild(canvas);
  document.body.appendChild(title);

  const vmax = Math.max(...vals);
  const colors = vals.map(v => viridis(v / vmax, 0.85));

  // chart.js goes clockwise, matplotlib counter-clockwise: reverse the bins
  new Chart(canvas, {
    type: 'polarArea',
    data: {
      labels: binLabels.slice().reverse(),
      datasets: [{
        data: vals.slice().reverse(),
        backgroundColor: colors.slice().reverse(),
        borderWidth: 0
      }]
    },
    options: {
      responsive: false,
      animation: false,
      devicePixelRatio: 1,
      layout: { padding: 48 },
      plugins: {
        legend: { display: false },
        tooltip: { enabled: false },
        polarDecor: { step: tickSteps[i] }
      },
      scales: {
        r: {
          min: 0,
          max: vmax * 1.05,
          startAngle: 90,
          ticks: { display: false, stepSize: tickSteps[i] },
          grid: { display: false },
          angleLines: { display: false },
          pointLabels: { display: false }
        }
      }
    },
    plugins: [polarDecor]
  });
});
</script>
</body>
</html>
